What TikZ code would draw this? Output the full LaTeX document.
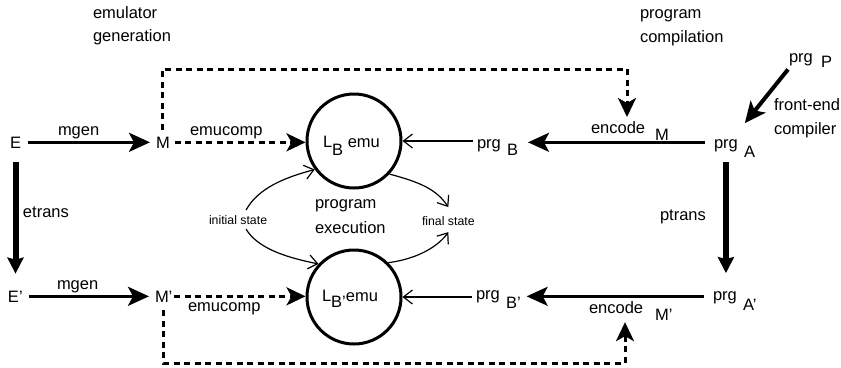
\documentclass[tikz,border=0pt]{standalone}
\usepackage{fontspec}
\setmainfont{Liberation Sans}
\usetikzlibrary{arrows.meta}
\newcommand\lowr[2][8pt]{\raisebox{-#1}{#2}}
\begin{document}
\begin{tikzpicture}[x=1pt,y=-1pt,
  every node/.style={inner sep=0pt, outer sep=0pt},
  lbl/.style={anchor=base west, font=\fontsize{16.5}{20}\selectfont},
  sml/.style={anchor=base west, font=\fontsize{12.3}{14}\selectfont},
  emu/.style={circle, draw, line width=3pt, minimum size=94pt, outer sep=1.5pt},
  big/.style={line width=3pt, -{Stealth[length=21pt,width=19pt,inset=5pt]}},
  bigd/.style={line width=4pt, -{Stealth[length=21pt,width=19pt,inset=5pt]}},
  bigv/.style={line width=6pt, -{Stealth[length=16pt,width=16pt,inset=2pt]}},
  dsh/.style={line width=3pt, dash pattern=on 6pt off 4.5pt, -{Stealth[length=19pt,width=18pt,inset=5pt]}},
  thinarr/.style={line width=1.2pt, -{Straight Barb[length=9pt,width=14pt]}}]
\useasboundingbox (0,0) rectangle (841,367);

% titles
\node[lbl] (t1) at (93,18) {emulator};
\node[lbl] (t2) at (93,41) {generation};
\node[lbl] (t3) at (640,18) {program};
\node[lbl] (t4) at (640,42) {compilation};

% left column
\node[lbl] (E) at (10,148) {E};
\node[lbl] (M) at (156,148) {M};
\node[lbl] (E2) at (8,302) {E'};
\node[lbl] (M2) at (155,302) {M'};
\node[lbl] (mg1) at (58,135) {mgen};
\node[lbl] (mg2) at (57,289) {mgen};
\node[lbl] (ec1) at (190,135) {emucomp};
\node[lbl] (ec2) at (188,311) {emucomp};
\node[lbl] (et) at (23,217) {etrans};

% emulators
\node[emu] (C1) at (354,141) {};
\node[emu] (C2) at (354,297) {};
\node[lbl] (L1) at (323,147) {L\lowr{B} emu};
\node[lbl] (L2) at (322,301) {L\lowr[6pt]{B'}emu};
\node[lbl] (pe1) at (315,208) {program};
\node[lbl] (pe2) at (315,233) {execution};
\node[sml] (ini) at (209,224) {initial state};
\node[sml] (fin) at (422,225) {final state};

% right side
\node[lbl] (pB) at (477,148) {prg};
\node[lbl] (sB) at (507,155) {B};
\node[lbl] (pB2) at (476,299) {prg};
\node[lbl] (sB2) at (506,308) {B'};
\node[lbl] (pA) at (714,148) {prg};
\node[lbl] (sA) at (744,157) {A};
\node[lbl] (pA2) at (713,300) {prg};
\node[lbl] (sA2) at (743,310) {A'};
\node[lbl] (pP) at (789,62) {prg};
\node[lbl] (sP) at (821,67) {P};
\node[lbl] (enc1) at (591,133) {encode};
\node[lbl] (em1) at (655,140) {M};
\node[lbl] (enc2) at (589,313) {encode};
\node[lbl] (em2) at (655,320) {M'};
\node[lbl] (fe1) at (774,110) {front-end};
\node[lbl] (fe2) at (774,134) {compiler};
\node[lbl] (pt) at (660,220) {ptrans};

\coordinate (tr) at (627,69);
\coordinate (br) at (625,363);

% solid thick arrows
\draw[big, shorten <=7pt, shorten >=6pt] (E) -- (M);
\draw[big, shorten <=6pt, shorten >=6pt] (E2) -- (M2);
\draw[bigv, shorten <=14pt, shorten >=17pt] (E.south) -- (E.south |- E2.north);
\draw[bigv, shorten <=11pt, shorten >=18pt] (pA.south) -- (pA.south |- pA2.north);
\draw[big, shorten <=9pt, shorten >=10pt] (pA.west |- E) -- (sB.east |- E);
\draw[big, shorten <=9pt, shorten >=6pt] (pA2.west |- E2) -- (sB2.east |- E2);
\draw[bigd] ([xshift=-1pt,yshift=-4pt]pP.south west) -- ([xshift=7pt,yshift=16pt]pA.north east);

% dashed arrows
\draw[dsh, shorten <=5pt] (M.east) -- (M.east -| C1.west);
\draw[dsh, shorten <=2pt] (M2.east) -- (M2.east -| C2.west);
\draw[dsh, shorten <=7pt, shorten >=4pt] (M.north) |- (tr) -- (tr |- enc1.north);
\draw[dsh, shorten <=8pt, shorten >=9pt] (M2.south) |- (br) -- (br |- enc2.south);

% thin arrows
\draw[thinarr, shorten <=4pt] (pB.west |- C1.east) -- (C1.east);
\draw[thinarr, shorten <=4pt] (pB2.west |- C2.east) -- (C2.east);
\draw[thinarr] ([xshift=8pt,yshift=5pt]ini.north) .. controls +(12,-22) and +(-30,8) .. (C1.216);
\draw[thinarr] ([xshift=8pt,yshift=-5pt]ini.south) .. controls +(12,20) and +(-30,-6) .. (C2.137);
\draw[thinarr] (C1.-43) .. controls +(30,8) and +(-12,-18) .. ([yshift=9pt]fin.north);
\draw[thinarr] (C2.45) .. controls +(30,-4) and +(-10,14) .. ([yshift=-7pt]fin.south);
\end{tikzpicture}
\end{document}
